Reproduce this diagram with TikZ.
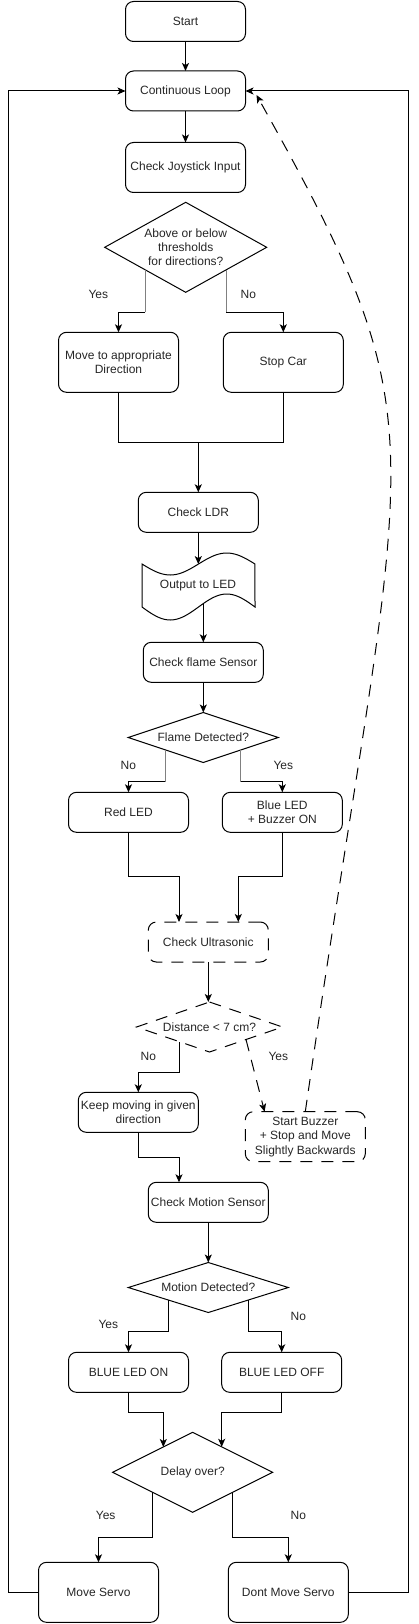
\documentclass[tikz,border=0pt]{standalone}
\usepackage{fontspec}
\setmainfont{Liberation Sans}
\usetikzlibrary{arrows.meta,calc}
\begin{document}
\begin{tikzpicture}[x=1pt,y=-1pt,line width=1pt,
  every node/.style={font=\fontsize{12}{14.4}\selectfont, text=black!85},
  box/.style={draw, rectangle, rounded corners=8pt, minimum width=120pt, minimum height=40pt, inner sep=2pt, outer sep=0pt, align=center},
  dbox/.style={box, dash pattern=on 12pt off 9pt},
  dia/.style={rectangle, inner sep=0pt, outer sep=0pt, align=center},
  arr/.style={-{Stealth[length=8pt,width=7pt,inset=2pt]}},
  darr/.style={arr, dash pattern=on 12pt off 9pt},
  gline/.style={draw=black!50},
  lbl/.style={inner sep=0pt}
]
\useasboundingbox (0,0) rectangle (418,1624);

% nodes
\node[box] (start) at (185.5,21.5) {Start};
\node[box] (loop) at (185.5,91) {Continuous Loop};
\node[box, minimum height=50pt] (joy) at (185.5,167.5) {Check Joystick Input};
\node[dia, minimum width=162pt, minimum height=90pt] (thr) at (185.7,247.3) {Above or below\\thresholds\\for directions?};
\draw (thr.north) -- (thr.east) -- (thr.south) -- (thr.west) -- cycle;
\node[box, minimum height=60pt] (move) at (118.5,362.3) {Move to appropriate\\Direction};
\node[box, minimum height=60pt] (stopcar) at (283.3,362.3) {Stop Car};
\node[box] (ldr) at (198.3,512.3) {Check LDR};
\draw plot[domain=0:1, samples=41, smooth] ({142+113*\x},{564+11*sin(360*\x)})
  -- plot[domain=1:0, samples=41, smooth] ({142+113*\x},{607+13*sin(360*\x)}) -- cycle;
\node[dia] (led) at (198,586) {Output to LED};
\coordinate (ledtop) at (198.3,564.1);
\coordinate (ledbot) at (203.3,603.6);
\node[box] (flame) at (203.3,662.3) {Check flame Sensor};
\node[dia, minimum width=150pt, minimum height=50pt] (fdia) at (203.3,737.5) {Flame Detected?};
\draw (fdia.north) -- (fdia.east) -- (fdia.south) -- (fdia.west) -- cycle;
\node[box] (red) at (128.5,812.3) {Red LED};
\node[box] (blue) at (282.3,812.3) {Blue LED\\+ Buzzer ON};
\node[dbox] (ultra) at (208.3,942) {Check Ultrasonic};
\node[dia, minimum width=146pt, minimum height=50pt] (dist) at (209.5,1027) {Distance < 7 cm?};
\draw[dash pattern=on 12pt off 9pt] (dist.north) -- (dist.east) -- (dist.south) -- (dist.west) -- cycle;
\node[box] (keep) at (138.3,1112.3) {Keep moving in given\\direction};
\node[dbox, minimum height=50pt] (buzz) at (305.3,1136.7) {Start Buzzer\\+ Stop and Move\\Slightly Backwards};
\node[box] (motion) at (208.3,1202.3) {Check Motion Sensor};
\node[dia, minimum width=160pt, minimum height=50pt] (mdia) at (208.3,1287.5) {Motion Detected?};
\draw (mdia.north) -- (mdia.east) -- (mdia.south) -- (mdia.west) -- cycle;
\node[box] (bon) at (128.5,1372.3) {BLUE LED ON};
\node[box] (boff) at (281.7,1372.3) {BLUE LED OFF};
\node[dia, minimum width=160pt, minimum height=80pt] (delay) at (192.7,1472.3) {Delay over?};
\draw (delay.north) -- (delay.east) -- (delay.south) -- (delay.west) -- cycle;
\node[box, minimum height=60pt] (servo) at (98.5,1592.3) {Move Servo};
\node[box, minimum height=60pt] (noservo) at (288.3,1592.3) {Dont Move Servo};

% labels
\node[lbl] (y1) at (98.3,294.3) {Yes};
\node[lbl] (n1) at (248.3,294.3) {No};
\node[lbl] (n2) at (128.3,765.7) {No};
\node[lbl] (y2) at (283.3,765.7) {Yes};
\node[lbl] (n3) at (148.3,1056.7) {No};
\node[lbl] (y3) at (278.3,1056.7) {Yes};
\node[lbl] (y4) at (108.3,1324) {Yes};
\node[lbl] (n4) at (298.3,1316.7) {No};
\node[lbl] (y5) at (105.7,1515) {Yes};
\node[lbl] (n5) at (298.3,1515) {No};

% connectors
\draw[arr] (start.south) -- (loop.north);
\draw[arr] (loop.south) -- (joy.north);

\coordinate (thrL) at ($(thr.south)!0.5!(thr.west)$);
\coordinate (thrR) at ($(thr.south)!0.5!(thr.east)$);
\coordinate (thrY) at (0,312.3);
\draw[arr] (thrL |- thrY) -| (move.north);
\draw[arr] (thrR |- thrY) -| (stopcar.north);
\draw[gline] (thrL) -- (thrL |- thrY);
\draw[gline] (thrR) -- (thrR |- thrY);

\coordinate (mj) at (198.3,442.3);
\draw (move.south) |- (mj) -| (stopcar.south);
\draw[arr] (mj) -- (ldr.north);
\draw[arr] (ldr.south) -- (ledtop);
\draw[arr] (ledbot) -- (flame.north);
\draw[arr] (flame.south) -- (fdia.north);

\coordinate (fL) at ($(fdia.south)!0.5!(fdia.west)$);
\coordinate (fR) at ($(fdia.south)!0.5!(fdia.east)$);
\coordinate (fY) at (0,781.7);
\draw[arr] (fL |- fY) -| (red.north);
\draw[arr] (fR |- fY) -| (blue.north);
\draw[gline] (fL) -- (fL |- fY);
\draw[gline] (fR) -- (fR |- fY);

\coordinate (uj1) at (179,876.7);
\coordinate (uj2) at (238.3,876.7);
\draw[arr] (red.south) |- (uj1) -- (uj1 |- ultra.north);
\draw[arr] (blue.south) |- (uj2) -- (uj2 |- ultra.north);
\draw[arr] (ultra.south) -- (ultra.south |- dist.north);

\coordinate (dL) at ($(dist.south)!0.41!(dist.west)$);
\coordinate (dR) at ($(dist.south)!0.5!(dist.east)$);
\coordinate (dY) at (0,1072.3);
\draw[arr] (dL) -- (dL |- dY) -| (keep.north);
\coordinate (bz) at ($(buzz.north west)+(19.3,0)$);
\draw[darr] (dR) -- (bz);

\coordinate (kj) at (179,1157.3);
\draw[arr] (keep.south) |- (kj) -- (kj |- motion.north);
\draw[arr] (motion.south) -- (mdia.north);

\coordinate (mL) at ($(mdia.south)!0.5!(mdia.west)$);
\coordinate (mR) at ($(mdia.south)!0.5!(mdia.east)$);
\coordinate (mY) at (0,1331.7);
\draw[arr] (mL) -- (mL |- mY) -| (bon.north);
\draw[arr] (mR) -- (mR |- mY) -| (boff.north);

\coordinate (dlL) at ($(delay.north)!0.3675!(delay.west)$);
\coordinate (dlR) at ($(delay.north)!0.3625!(delay.east)$);
\coordinate (dlY) at (0,1412.3);
\draw[arr] (bon.south) |- (dlL |- dlY) -- (dlL);
\draw[arr] (boff.south) |- (dlR |- dlY) -- (dlR);

\coordinate (sL) at ($(delay.south)!0.5!(delay.west)$);
\coordinate (sR) at ($(delay.south)!0.5!(delay.east)$);
\coordinate (sY) at (0,1537.3);
\draw[arr] (sL) -- (sL |- sY) -| (servo.north);
\draw[arr] (sR) -- (sR |- sY) -| (noservo.north);

\coordinate (lx) at (8.3,0);
\coordinate (rx) at (408.3,0);
\draw[arr] (servo.west) -| (lx |- loop.west) -- (loop.west);
\draw[arr] (noservo.east) -| (rx |- loop.east) -- (loop.east);

\coordinate (dend) at ($(loop.east)+(11,4)$);
\draw[darr] (buzz.north) .. controls (405,422) and (449,439) .. (dend);
\end{tikzpicture}
\end{document}
